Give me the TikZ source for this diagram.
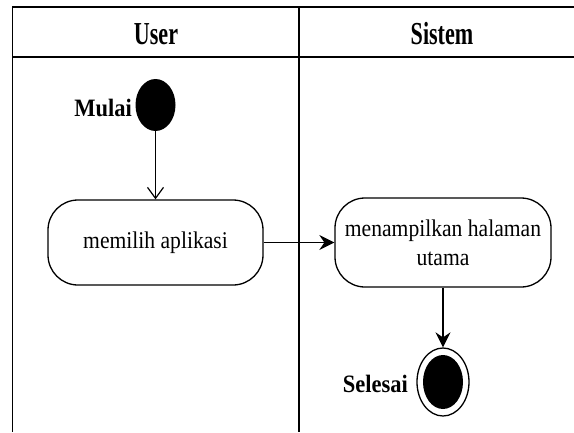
\documentclass[tikz,border=0pt]{standalone}
\usepackage{fontspec}
\setmainfont{Liberation Serif}[FakeStretch=0.9]
\newfontfamily\headfont{Liberation Serif}[FakeStretch=0.69]
\usetikzlibrary{arrows.meta,shapes.geometric}

\begin{document}
\begin{tikzpicture}[x=1pt, y=-1pt,
  lane/.style={line width=1.4pt},
  head/.style={font=\headfont\fontsize{32}{36}\selectfont\bfseries},
  act/.style={draw,line width=1.3pt,rounded corners=30pt,align=center,font=\fontsize{24}{29}\selectfont},
  lbl/.style={font=\fontsize{25}{30}\selectfont\bfseries,anchor=east,inner sep=0pt},
  flow/.style={line width=1.3pt,-{Stealth[length=15pt,width=15pt,inset=5pt]}}]
\useasboundingbox (0,0) rectangle (574,432);
% swimlanes
\draw[lane] (574,7) -- (12.5,7) -- (12.5,432);
\draw[lane] (12.5,57) -- (574,57);
\draw[lane] (299,7) -- (299,432);
\node[head] (hUser) at (156,34) {User};
\node[head] (hSistem) at (442,34) {Sistem};
% start
\node[ellipse,fill,minimum width=40pt,minimum height=52pt,inner sep=0pt] (start) at (155.5,105) {};
\node[lbl] (lMulai) at (132,108) {Mulai};
% actions
\node[act,minimum width=215pt,minimum height=85pt] (memilih) at (155.5,242.5) {memilih aplikasi};
\node[act,minimum width=216pt,minimum height=89pt] (tampil) at (443,242.5) {menampilkan halaman\\utama};
% end
\node[ellipse,draw,line width=1.3pt,minimum width=52pt,minimum height=68pt,inner sep=0pt] (stop) at (443,382) {};
\node[ellipse,fill,minimum width=40pt,minimum height=54pt,inner sep=0pt] (stopdot) at (stop) {};
\node[lbl] (lSelesai) at (408,384) {Selesai};
% flows
\draw[line width=1.2pt,-{Straight Barb[length=11pt,width=16pt]}] (start) -- (memilih);
\draw[flow] (memilih) -- (tampil);
\draw[flow] (tampil) -- (stop);
\end{tikzpicture}
\end{document}
